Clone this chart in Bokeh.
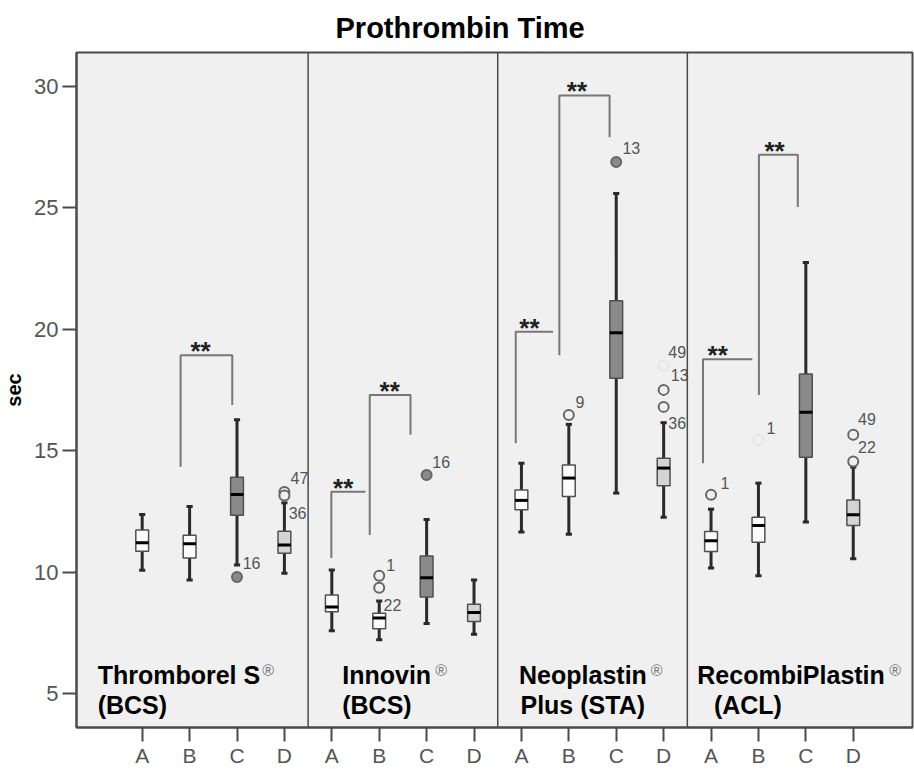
from bokeh.plotting import figure
from bokeh.models import FixedTicker, Span, Range1d
from bokeh.core.properties import value
from bokeh.embed import file_html
from bokeh.resources import INLINE

# ---------------- data ----------------
title = "Prothrombin Time"
groups = ["A", "B", "C", "D"]
reagents = ["Thromborel S", "Innovin", "Neoplastin", "RecombiPlastin"]
reagents_line2 = ["(BCS)", "(BCS)", "Plus (STA)", "(ACL)"]

# 16 boxes: 4 reagents x groups A-D (sec)
whisker_low = [10.07, 9.67, 10.29, 9.95,
               7.58, 7.21, 7.88, 7.44,
               11.65, 11.56, 13.25, 12.26,
               10.17, 9.85, 12.06, 10.55]
q1 = [10.86, 10.58, 12.34, 10.77,
      8.37, 7.67, 8.97, 7.96,
      12.56, 13.11, 17.98, 13.55,
      10.85, 11.23, 14.73, 11.92]
median = [11.21, 11.16, 13.19, 11.11,
          8.56, 8.11, 9.77, 8.33,
          12.95, 13.87, 19.85, 14.28,
          11.29, 11.92, 16.58, 12.36]
q3 = [11.73, 11.51, 13.90, 11.68,
      9.05, 8.30, 10.66, 8.67,
      13.38, 14.41, 21.17, 14.69,
      11.67, 12.26, 18.15, 12.97]
whisker_high = [12.37, 12.70, 16.27, 12.85,
                10.08, 8.81, 12.16, 9.67,
                14.48, 16.08, 25.58, 16.15,
                12.59, 13.66, 22.74, 14.32]

# outliers: box index, value, case id
outlier_box = [2, 3, 3, 5, 5, 6, 9, 10, 11, 11, 11, 12, 13, 15, 15]
outlier_value = [9.8, 13.3, 13.15, 9.85, 9.35, 14.0, 16.47, 26.88,
                 18.5, 17.5, 16.8, 13.18, 15.44, 15.65, 14.55]
outlier_id = ["16", "47", "36", "1", "22", "16", "9", "13",
              "49", "13", "36", "1", "1", "49", "22"]
outlier_faint = [False, False, False, False, False, False, False, False,
                 True, False, False, False, True, False, False]

# significance brackets: x left, x right, y of left foot, y top, y of right foot (None = no foot)
bracket_x0 = [0.81, 3.99, 4.80, 7.88, 8.80, 11.83, 13.01]
bracket_x1 = [1.90, 4.71, 5.66, 8.67, 9.86, 12.87, 13.83]
bracket_y0 = [14.34, 10.58, 11.53, 15.30, 18.93, 14.48, 17.29]
bracket_top = [18.93, 13.31, 17.29, 19.89, 29.62, 18.76, 27.18]
bracket_y1 = [16.88, None, 15.65, None, 27.90, None, 25.03]
bracket_label_x = [1.23, 4.24, 5.22, 8.17, 9.17, 12.14, 13.34]
bracket_label = ["**"] * 7

# ---------------- layout helpers ----------------
n = len(median)
xpos = list(range(n))
fill = {"A": "#fbfbfb", "B": "#fbfbfb", "C": "#8a8a8a", "D": "#d4d4d4"}
box_fill = [fill[groups[i % 4]] for i in xpos]

FONT = "Liberation Sans"

p = figure(width=914, height=769, output_backend="svg", toolbar_location=None,
           x_range=Range1d(-1.386, 16.25), y_range=Range1d(3.60, 31.39),
           min_border_left=76, min_border_right=2, min_border_top=52, min_border_bottom=41)
p.background_fill_color = "#f0f0f0"
p.border_fill_color = "white"
p.outline_line_color = "#4a4a4a"
p.outline_line_width = 2
p.xgrid.visible = False
p.ygrid.visible = False

p.title.text = title
p.title.text_font = FONT
p.title.text_font_size = "29px"
p.title.text_font_style = "bold"
p.title.text_color = "black"
p.title.align = "left"
p.title.offset = 259
p.title.standoff = 17

# axes
xa = p.xaxis[0]
xa.ticker = FixedTicker(ticks=xpos)
xa.major_label_overrides = {i: groups[i % 4] for i in xpos}
xa.major_tick_out = 14
xa.major_tick_in = 0
xa.minor_tick_out = 0
xa.minor_tick_in = 0
xa.major_label_standoff = 2
xa.major_label_text_font = FONT
xa.major_label_text_font_size = "21px"
xa.major_label_text_color = "#555555"
xa.axis_line_color = "#4a4a4a"
xa.axis_line_width = 2
xa.major_tick_line_color = "#4a4a4a"
xa.major_tick_line_width = 2

ya = p.yaxis[0]
ya.ticker = FixedTicker(ticks=[5, 10, 15, 20, 25, 30])
ya.major_tick_out = 14
ya.major_tick_in = 0
ya.minor_tick_out = 0
ya.minor_tick_in = 0
ya.major_label_standoff = 4
ya.major_label_text_font = FONT
ya.major_label_text_font_size = "22px"
ya.major_label_text_color = "#555555"
ya.axis_line_color = "#4a4a4a"
ya.axis_line_width = 2
ya.major_tick_line_color = "#4a4a4a"
ya.major_tick_line_width = 2
ya.axis_label = "sec"
ya.axis_label_text_font = FONT
ya.axis_label_text_font_size = "20px"
ya.axis_label_text_font_style = "bold"
ya.axis_label_text_color = "black"
ya.axis_label_standoff = 6

# panel separators
for loc in (3.5, 7.5, 11.5):
    p.add_layout(Span(location=loc, dimension="height", line_color="#4a4a4a", line_width=1.5))

# brackets
xs, ys = [], []
for x0, x1, y0, yt, y1 in zip(bracket_x0, bracket_x1, bracket_y0, bracket_top, bracket_y1):
    if y1 is None:
        xs.append([x0, x0, x1]); ys.append([y0, yt, yt])
    else:
        xs.append([x0, x0, x1, x1]); ys.append([y0, yt, yt, y1])
p.multi_line(xs, ys, line_color="#777777", line_width=2)
p.text(bracket_label_x, bracket_top, text=bracket_label, text_font=value(FONT),
       text_font_size="26px", text_font_style="bold", text_color="#222222",
       text_align="center", text_baseline="alphabetic", y_offset=-4)

# whiskers
p.segment(xpos, whisker_low, xpos, q1, line_color="#2a2a2a", line_width=3)
p.segment(xpos, q3, xpos, whisker_high, line_color="#2a2a2a", line_width=3)
cap = 0.065
p.segment([x - cap for x in xpos], whisker_low, [x + cap for x in xpos], whisker_low,
          line_color="#2a2a2a", line_width=3)
p.segment([x - cap for x in xpos], whisker_high, [x + cap for x in xpos], whisker_high,
          line_color="#2a2a2a", line_width=3)
# boxes
bw = 0.27
p.vbar(x=xpos, width=bw, bottom=q1, top=q3, fill_color=box_fill,
       line_color="#505050", line_width=1.5)
p.segment([x - bw / 2 for x in xpos], median, [x + bw / 2 for x in xpos], median,
          line_color="black", line_width=3)

# outliers
ox = [xpos[b] for b in outlier_box]
ofill = ["#8a8a8a" if b % 4 == 2 else "#f0f0f0" for b in outlier_box]
oline = ["#e6e6e6" if f else "#666666" for f in outlier_faint]
ofill = ["#f0f0f0" if f else c for f, c in zip(outlier_faint, ofill)]
p.scatter(ox, outlier_value, size=10, marker="circle", fill_color=ofill,
          line_color=oline, line_width=2)

# outlier case labels (annotation positions)
label_x = [2.12, 3.13, 3.09, 5.15, 5.09, 6.12, 9.14, 10.13, 11.10, 11.15, 11.10, 12.20, 13.17, 15.10, 15.10]
label_y = [10.38, 13.88, 12.44, 10.30, 8.66, 14.55, 17.01, 27.47, 19.07, 18.11, 16.14, 13.67, 15.93, 16.30, 15.15]
p.text(label_x, label_y, text=outlier_id, text_font=value(FONT), text_font_size="16px",
       text_color="#555555", text_align="left", text_baseline="middle")

# reagent labels
line1_x = [-0.94, 4.22, 7.95, 11.71]
line2_x = [-0.94, 4.22, 7.98, 12.06]
p.text(line1_x, [5.78] * 4, text=reagents, text_font=value(FONT), text_font_size="25px",
       text_font_style="bold", text_color="black", text_align="left", text_baseline="alphabetic")
p.text(line2_x, [4.52] * 4, text=reagents_line2, text_font=value(FONT), text_font_size="25px",
       text_font_style="bold", text_color="black", text_align="left", text_baseline="alphabetic")
reg_x = [2.53, 6.18, 10.73, 15.76]
p.text(reg_x, [6.3] * 4, text=["\u00ae"] * 4, text_font=value(FONT), text_font_size="16px",
       text_color="#777777", text_align="left", text_baseline="top")

open("out.html", "w").write(file_html(p, INLINE))
